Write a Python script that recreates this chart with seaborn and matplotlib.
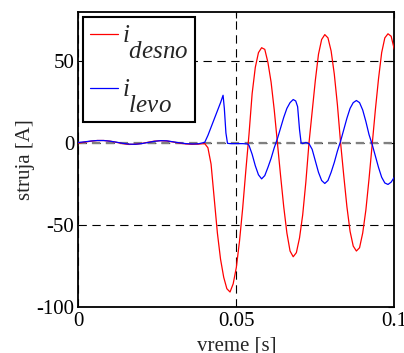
import matplotlib
matplotlib.use("Agg")
import matplotlib.pyplot as plt
import matplotlib._mathtext as _mt
import seaborn as sns
import pandas as pd

# ---- data ----
t_desno = [0.000, 0.002, 0.004, 0.006, 0.008, 0.010, 0.012, 0.014, 0.016, 0.018,
           0.020, 0.022, 0.024, 0.026, 0.028, 0.030, 0.032, 0.034, 0.036, 0.038,
           0.040, 0.041, 0.042, 0.043, 0.044, 0.045, 0.046, 0.047, 0.048, 0.049,
           0.050, 0.051, 0.052, 0.053, 0.054, 0.055, 0.056, 0.057, 0.058, 0.059,
           0.060, 0.061, 0.062, 0.063, 0.064, 0.065, 0.066, 0.067, 0.068, 0.069,
           0.070, 0.071, 0.072, 0.073, 0.074, 0.075, 0.076, 0.077, 0.078, 0.079,
           0.080, 0.081, 0.082, 0.083, 0.084, 0.085, 0.086, 0.087, 0.088, 0.089,
           0.090, 0.091, 0.092, 0.093, 0.094, 0.095, 0.096, 0.097, 0.098, 0.099,
           0.100]
i_desno = [-0.2, 0.4, 1.0, 1.4, 1.4, 1.0, 0.3, -0.5, -1.0, -0.9,
           -0.4, 0.3, 1.0, 1.3, 1.1, 0.5, -0.2, -0.7, -0.9, -0.8,
           -0.5, -3, -13, -34, -55, -71, -82, -89, -91, -86,
           -76, -60, -40, -17, 5, 30, 46, 55, 58, 57,
           49, 37, 20, 0, -20, -39, -55, -66, -69.5, -67,
           -58, -44, -24, 0, 19, 38, 54, 63, 66, 64,
           56, 42, 23, 0, -20, -39, -54, -63, -66, -64,
           -55, -41, -22, -1, 20, 39, 55, 64, 66.5, 65,
           57]

t_levo = [0.000, 0.002, 0.004, 0.006, 0.008, 0.010, 0.012, 0.014, 0.016, 0.018,
          0.020, 0.022, 0.024, 0.026, 0.028, 0.030, 0.032, 0.034, 0.036, 0.038,
          0.040, 0.041, 0.042, 0.043, 0.044, 0.045, 0.0458, 0.0462, 0.0467, 0.0472,
          0.048, 0.050, 0.052, 0.0535, 0.054, 0.055, 0.056, 0.057, 0.058, 0.059,
          0.060, 0.061, 0.062, 0.063, 0.064, 0.065, 0.066, 0.067, 0.068, 0.0688,
          0.0694, 0.070, 0.0705, 0.071, 0.072, 0.073, 0.074, 0.075, 0.076, 0.077,
          0.078, 0.079, 0.080, 0.081, 0.082, 0.083, 0.084, 0.085, 0.086, 0.087,
          0.088, 0.089, 0.090, 0.091, 0.092, 0.093, 0.094, 0.095, 0.096, 0.097,
          0.098, 0.099, 0.100]
i_levo = [0.2, 0.6, 1.1, 1.4, 1.4, 1.0, 0.4, -0.3, -0.8, -0.9,
          -0.5, 0.2, 0.9, 1.3, 1.2, 0.6, 0.0, -0.5, -0.7, -0.6,
          0.3, 4.5, 9.5, 14.5, 19.5, 24.5, 29, 21, 6, -0.3,
          -0.5, -0.5, -0.5, -0.7, -1.5, -7, -14, -19.5, -22, -20,
          -15, -9.5, -3, 2.5, 9, 15.5, 21, 24.5, 26.4, 25.5,
          22, 8, 0, -0.5, 0.2, -0.5, -4, -11, -18, -23,
          -24.8, -23, -18, -12, -5, 1, 8, 15, 21, 24.5,
          25.8, 24.5, 20, 13, 5, -1, -8, -15, -21, -24.5,
          -25.4, -24, -21]

x_ticks = [0, 0.05, 0.1]
x_ticklabels = ["0", "0.05", "0.1"]
y_ticks = [-100, -50, 0, 50]
y_ticklabels = ["-100", "-50", "0", "50"]
label_desno = r"$i_{desno}$"
label_levo = r"$i_{levo}$"

# ---- style ----
sns.set_style("white")
plt.rcParams["font.family"] = ["Liberation Serif", "DejaVu Serif"]
plt.rcParams["mathtext.fontset"] = "custom"
plt.rcParams["mathtext.it"] = "Liberation Serif:italic"
plt.rcParams["mathtext.rm"] = "Liberation Serif"
plt.rcParams["lines.scale_dashes"] = False
# MATLAB-like subscripts: same size, dropped well below the baseline
_mt.SHRINK_FACTOR = 1.0
_mt.FontConstantsBase.sub1 = 1.35

df_d = pd.DataFrame({"t": t_desno, "i": i_desno})
df_l = pd.DataFrame({"t": t_levo, "i": i_levo})

fig = plt.figure(figsize=(4.04, 3.53), dpi=100)
ax = fig.add_axes([0.194, 0.131, 0.782, 0.836])

ax.grid(True, color="black", linestyle=(0, (6, 4)), linewidth=0.8)
ax.axhline(0, color="#808080", linestyle=(0, (6, 4)), linewidth=1.6, zorder=1.5)

sns.lineplot(data=df_d, x="t", y="i", color="#ff0000", linewidth=0.9,
             sort=False, estimator=None, label=label_desno, ax=ax, zorder=3)
sns.lineplot(data=df_l, x="t", y="i", color="#0000ff", linewidth=0.9,
             sort=False, estimator=None, label=label_levo, ax=ax, zorder=4)

ax.set_xlim(0, 0.1)
ax.set_ylim(-100, 80)
ax.set_xticks(x_ticks)
ax.set_xticklabels(x_ticklabels)
ax.set_yticks(y_ticks)
ax.set_yticklabels(y_ticklabels)
ax.tick_params(direction="in", top=True, right=True, length=4, width=0.8,
               labelsize=15, colors="black")
ax.tick_params(axis="x", pad=3.5)
ax.tick_params(axis="y", pad=3)
for s in ax.spines.values():
    s.set_visible(True)
    s.set_color("black")
    s.set_linewidth(1.3)

ax.set_xlabel("vreme [s]", fontsize=15, labelpad=4)
ax.set_ylabel("struja [A]", fontsize=15, labelpad=1)

leg = ax.legend(loc="upper left", fontsize=18, frameon=True, fancybox=False,
                framealpha=1, edgecolor="black", borderaxespad=0.2,
                handlelength=1.1, handletextpad=0.15, borderpad=0.28,
                labelspacing=0.68)
leg.get_frame().set_linewidth(1.5)

fig.savefig("out.png", dpi=100)
